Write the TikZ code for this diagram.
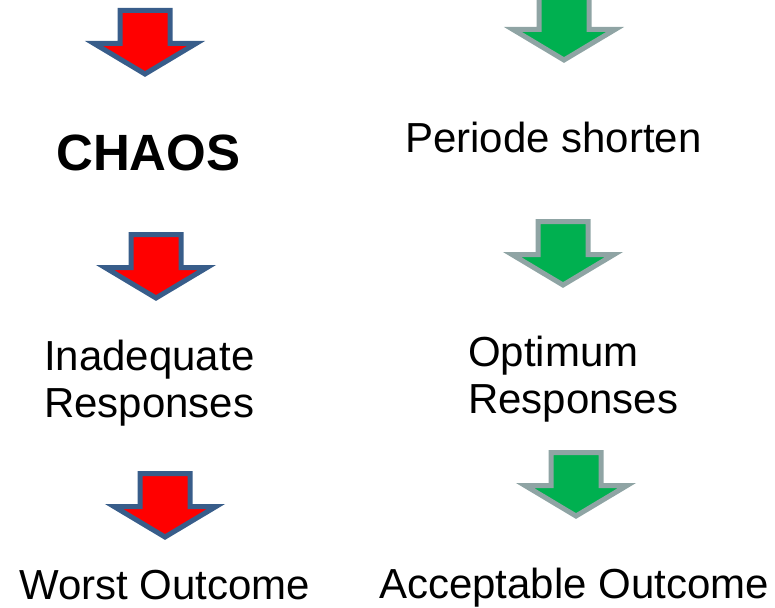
\documentclass[tikz,border=0pt]{standalone}
\usepackage{fontspec}
\setmainfont{Liberation Sans}
\definecolor{redline}{RGB}{56,93,138}
\definecolor{greenfill}{RGB}{0,176,80}
\definecolor{greenline}{RGB}{143,164,164}
\tikzset{
  word/.style={anchor=base west,inner sep=0,font=\fontsize{42}{47}\selectfont},
  bad arrow/.style={draw=redline,fill=red,line width=5pt},
  good arrow/.style={draw=greenline,fill=greenfill,line width=5pt},
}
\begin{document}
\begin{tikzpicture}[x=1pt,y=-1pt]
\useasboundingbox (0,0) rectangle (775,607);
%arrows, left column
\foreach \x/\y in {145/8,156/232,165/471}{
    \path[bad arrow,shift={(\x,\y)}] (-25,2.5) -- (25,2.5) -- (25,35.5) -- (51,35.5) -- (0,66) -- (-51,35.5) -- (-25,35.5) -- cycle;
}
%arrows, right column
\foreach \x/\y in {564/-6,563/219,576/450}{
    \path[good arrow,shift={(\x,\y)}] (-25,2.5) -- (25,2.5) -- (25,35.5) -- (51,35.5) -- (0,66) -- (-51,35.5) -- (-25,35.5) -- cycle;
}
%labels (base of a two-line node is its last line)
\node[word,font=\fontsize{51}{60}\selectfont\bfseries] (chaos) at (56,170) {CHAOS};
\node[word,align=center] (inadequate) at (44,417) {Inadequate\\Responses};
\node[word] (worst) at (19,599) {Worst Outcome};
\node[word] (periode) at (405,152) {Periode shorten};
\node[word,align=left] (optimum) at (468,413) {Optimum\\Responses};
\node[word] (acceptable) at (379,598) {Acceptable Outcome};
\end{tikzpicture}
\end{document}
